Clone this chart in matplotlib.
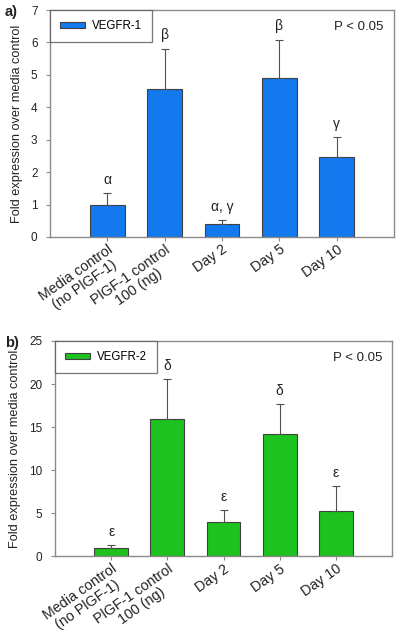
import matplotlib
matplotlib.use("Agg")
import matplotlib.pyplot as plt
from matplotlib.patches import Patch

categories = ["Media control\n(no PlGF-1)", "PlGF-1 control\n100 (ng)", "Day 2", "Day 5", "Day 10"]

vegfr1_values = [1.0, 4.58, 0.40, 4.89, 2.46]
vegfr1_errors = [0.35, 1.22, 0.12, 1.19, 0.62]
vegfr1_letters = ["α", "β", "α, γ", "β", "γ"]

vegfr2_values = [1.0, 16.0, 3.95, 14.2, 5.27]
vegfr2_errors = [0.35, 4.6, 1.4, 3.5, 2.93]
vegfr2_letters = ["ε", "δ", "ε", "δ", "ε"]

plt.rcParams['font.family'] = ['Liberation Sans', 'DejaVu Sans']

fig = plt.figure(figsize=(4.0, 6.37), dpi=100)

panels = [
    dict(rect=[0.125, 0.628, 0.86, 0.3562], values=vegfr1_values, errors=vegfr1_errors,
         letters=vegfr1_letters, color="#1479ee", label="VEGFR-1", ymax=7, yticks=range(0, 8),
         tag="a)", tagy=0.981, loff=0.2),
    dict(rect=[0.1375, 0.1265, 0.8425, 0.3382], values=vegfr2_values, errors=vegfr2_errors,
         letters=vegfr2_letters, color="#1ec21e", label="VEGFR-2", ymax=25, yticks=range(0, 30, 5),
         tag="b)", tagy=0.462, loff=0.7),
]

x = list(range(1, len(categories) + 1))
frame_col = "#8a8a8a"

for p in panels:
    ax = fig.add_axes(p["rect"])
    ax.bar(x, p["values"], width=0.6, color=p["color"], edgecolor="#404040", linewidth=0.8, zorder=2)
    ax.errorbar(x, p["values"], yerr=[[0] * len(x), p["errors"]], fmt="none",
                ecolor="#505050", elinewidth=0.8, capsize=3, capthick=0.8, zorder=3)
    for xi, v, e, t in zip(x, p["values"], p["errors"], p["letters"]):
        ax.text(xi, v + e + p["loff"], t, ha="center", va="bottom", fontsize=10, color="#222222")
    ax.set_xlim(0, 6)
    ax.set_ylim(0, p["ymax"])
    ax.set_yticks(list(p["yticks"]))
    ax.set_xticks(x)
    ax.set_xticklabels(categories, rotation=35, ha="right", rotation_mode="anchor",
                       multialignment="center", fontsize=10.3, linespacing=1.05)
    ax.tick_params(axis="both", direction="out", length=3, width=0.8, color=frame_col,
                   labelcolor="#222222")
    ax.tick_params(axis="y", labelsize=8.5, pad=6)
    ax.tick_params(axis="x", pad=1)
    for s in ax.spines.values():
        s.set_color(frame_col)
        s.set_linewidth(1.0)
    ax.set_ylabel("Fold expression over media control", fontsize=9.2, color="#222222", labelpad=6)
    leg = ax.legend(handles=[Patch(facecolor=p["color"], edgecolor="#404040", linewidth=0.8)],
                    labels=[p["label"]], loc="upper left", fontsize=8.3, frameon=True,
                    fancybox=False, borderaxespad=0.0, handlelength=2.2, handleheight=0.4,
                    borderpad=0.85, handletextpad=0.6)
    leg.get_frame().set_edgecolor("#555555")
    leg.get_frame().set_linewidth(0.9)
    ax.text(0.97, 0.95, "P < 0.05", transform=ax.transAxes, ha="right", va="top",
            fontsize=9.5, color="#222222")
    fig.text(0.012, p["tagy"], p["tag"], ha="left", va="center",
             fontsize=10.5, fontweight="bold", color="#222222")

fig.savefig("out.png", dpi=100)
